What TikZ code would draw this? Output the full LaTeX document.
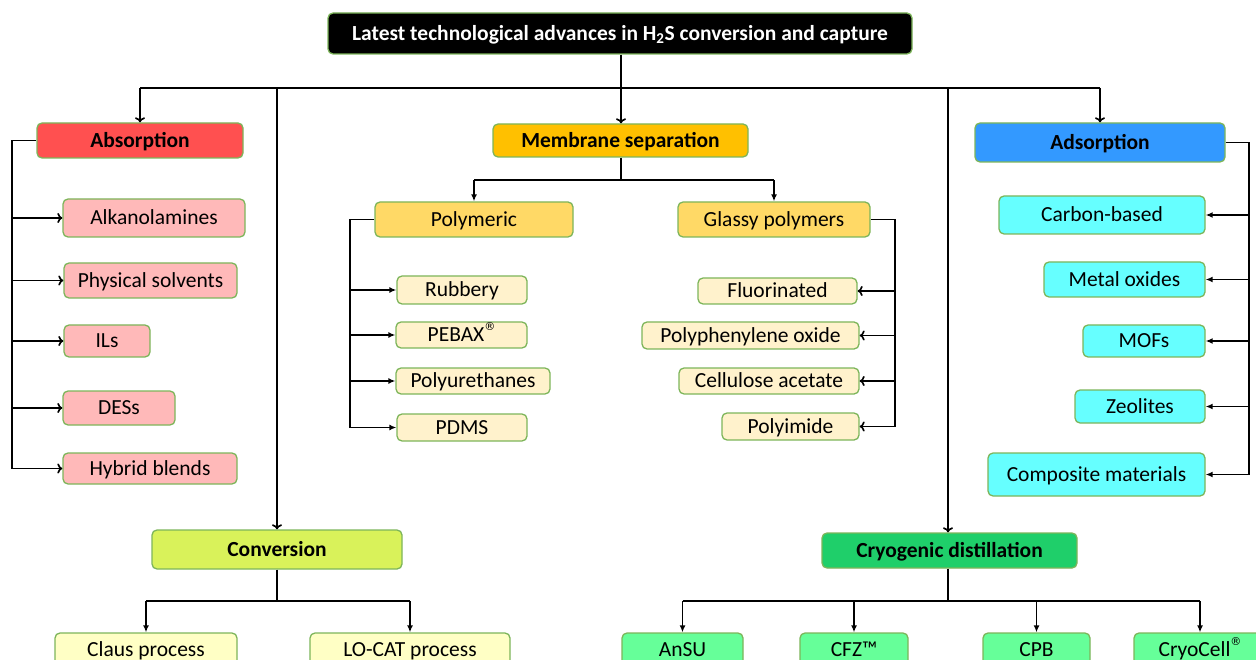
\documentclass[tikz,border=0pt]{standalone}
\usepackage{fontspec}
\setmainfont{Carlito}
\newfontfamily\dejavu{DejaVu Sans}
\usetikzlibrary{arrows.meta}
\definecolor{bd}{HTML}{7DB55A}
\definecolor{cAbs}{HTML}{FF5050}
\definecolor{cAbsL}{HTML}{FFB9B9}
\definecolor{cMem}{HTML}{FFC000}
\definecolor{cMemM}{HTML}{FFD966}
\definecolor{cMemL}{HTML}{FFF2CC}
\definecolor{cAds}{HTML}{3399FF}
\definecolor{cAdsL}{HTML}{66FFFF}
\definecolor{cConv}{HTML}{D9F25A}
\definecolor{cConvL}{HTML}{FFFFC5}
\definecolor{cCryo}{HTML}{1FCF6A}
\definecolor{cCryoL}{HTML}{66FF99}
\newcommand{\regm}{\raisebox{0.55em}{\dejavu\fontsize{11}{11}\selectfont ®}}
\tikzset{
  box/.style={draw=bd, line width=1.3pt, rounded corners=5pt, inner sep=0pt, font=\fontsize{21.5}{23}\selectfont, text=black, text height=15pt, text depth=1.2pt},
  hdr/.style={box, font=\fontsize{21.5}{23}\selectfont\bfseries},
  ln/.style={line width=1.9pt, black},
  arrC/.style={ln, -{To[length=5pt,width=10pt,line width=1.6pt]}},
  arrF/.style={ln, -{Latex[length=7pt,width=6pt]}}
}
\newcommand{\bx}[7]{%
  \node[#2, fill=#3, minimum width=#6pt, minimum height=#7pt] (#1) at (#4,#5)}
\begin{document}
\begin{tikzpicture}[x=1pt,y=-1pt]
\useasboundingbox (0,0) rectangle (1256,660);
\clip (0,0) rectangle (1256,660);
% title
\node[box, fill=black, text=white, font=\fontsize{21.5}{23}\selectfont\bfseries, minimum width=584pt, minimum height=41pt] (title) at (620,33.5) {Latest technological advances in H\textsubscript{2}S conversion and capture};
% headers
\bx{abs}{hdr}{cAbs}{140}{140.5}{206}{35}{Absorption};
\bx{mem}{hdr}{cMem}{620.5}{140.5}{255}{33}{Membrane separation};
\bx{ads}{hdr}{cAds}{1100}{142.5}{250}{39}{Adsorption};
\bx{conv}{hdr}{cConv}{277}{549.5}{250}{39}{Conversion};
\bx{cryo}{hdr}{cCryo}{949.5}{550.5}{255}{35}{Cryogenic distillation};
% absorption children
\bx{alk}{box}{cAbsL}{154}{218}{182}{38}{Alkanolamines};
\bx{phy}{box}{cAbsL}{150.5}{280.5}{173}{35}{Physical solvents};
\bx{ils}{box}{cAbsL}{107}{341}{86}{32}{ILs};
\bx{des}{box}{cAbsL}{119}{408}{112}{34}{DESs};
\bx{hyb}{box}{cAbsL}{150}{468.5}{174}{31}{Hybrid blends};
% membrane mid
\bx{poly}{box}{cMemM}{474}{219.5}{198}{35}{Polymeric};
\bx{glas}{box}{cMemM}{774}{219.5}{192}{35}{Glassy polymers};
% polymeric children
\bx{rub}{box}{cMemL}{462}{290}{130}{28}{Rubbery};
\bx{peb}{box}{cMemL}{461.5}{335}{131}{26}{PEBAX\regm};
\bx{pur}{box}{cMemL}{473}{381}{154}{26}{Polyurethanes};
\bx{pdms}{box}{cMemL}{462}{427.5}{130}{27}{PDMS};
% glassy children
\bx{flu}{box}{cMemL}{777.5}{291}{159}{26}{Fluorinated};
\bx{ppo}{box}{cMemL}{750.5}{335.5}{217}{27}{Polyphenylene oxide};
\bx{cel}{box}{cMemL}{769}{381}{180}{26}{Cellulose acetate};
\bx{pim}{box}{cMemL}{790.5}{426.5}{137}{27}{Polyimide};
% adsorption children
\bx{carb}{box}{cAdsL}{1102}{215}{206}{38}{Carbon-based};
\bx{met}{box}{cAdsL}{1124.5}{279.5}{161}{35}{Metal oxides};
\bx{mof}{box}{cAdsL}{1144}{341}{122}{32}{MOFs};
\bx{zeo}{box}{cAdsL}{1140}{406.5}{130}{33}{Zeolites};
\bx{comp}{box}{cAdsL}{1096.5}{474.5}{217}{43}{Composite materials};
% conversion children
\bx{claus}{box}{cConvL}{146}{650}{182}{34}{Claus process};
\bx{locat}{box}{cConvL}{410}{650}{200}{34}{LO-CAT process};
% cryo children
\bx{ansu}{box}{cCryoL}{682.5}{650}{121}{34}{AnSU};
\bx{cfz}{box}{cCryoL}{854}{650}{108}{34}{CFZ™};
\bx{cpb}{box}{cCryoL}{1036.5}{650}{107}{34}{CPB};
\bx{cryc}{box}{cCryoL}{1200}{650}{132}{34}{CryoCell\regm};
% top bus
\coordinate (hub) at (621,88);
\coordinate (hL) at (140,88);
\coordinate (hR) at (1100,88);
\coordinate (hC) at (277,88);
\coordinate (hY) at (948,88);
\draw[ln] (title.south -| hub) -- (hub);
\draw[ln] (hL) -- (hR);
\draw[arrC] (hL) -- (abs.north);
\draw[arrC] (hub) -- (mem.north -| hub);
\draw[arrC] (hR) -- (ads.north);
\draw[arrC] (hC) -- (conv.north);
\draw[arrC] (hY) -- (cryo.north -| hY);
% absorption bus
\coordinate (aT) at (12,140.5);
\coordinate (aB) at (12,468.5);
\draw[ln] (abs.west) -- (aT) -- (aB);
\foreach \n in {alk,phy,ils,des,hyb} \draw[arrC] (aT |- \n.west) -- (\n.west);
% membrane split
\coordinate (mS) at (621,180);
\draw[ln] (mem.south -| mS) -- (mS);
\draw[ln] (mS -| poly.north) -- (mS -| glas.north);
\draw[arrF] (mS -| poly.north) -- (poly.north);
\draw[arrF] (mS -| glas.north) -- (glas.north);
% polymeric bus
\coordinate (pT) at (350,219.5);
\coordinate (pB) at (350,427.5);
\draw[ln] (poly.west) -- (pT) -- (pB);
\foreach \n in {rub,peb,pur,pdms} \draw[arrF] (pT |- \n.west) -- (\n.west);
% glassy bus
\coordinate (gT) at (895,219.5);
\coordinate (gB) at (895,426.5);
\draw[ln] (glas.east) -- (gT) -- (gB);
\foreach \n in {flu,ppo,cel,pim} \draw[arrC] (gT |- \n.east) -- (\n.east);
% adsorption bus
\coordinate (dT) at (1249,142.5);
\coordinate (dB) at (1249,474.5);
\draw[ln] (ads.east) -- (dT) -- (dB);
\foreach \n in {carb,met,mof,zeo,comp} \draw[arrF] (dT |- \n.east) -- (\n.east);
% conversion split
\coordinate (cS) at (277,601);
\draw[ln] (conv.south) -- (cS);
\draw[ln] (cS -| claus.north) -- (cS -| locat.north);
\draw[arrF] (cS -| claus.north) -- (claus.north);
\draw[arrF] (cS -| locat.north) -- (locat.north);
% cryo split
\coordinate (yS) at (948,601);
\draw[ln] (cryo.south -| yS) -- (yS);
\draw[ln] (yS -| ansu.north) -- (yS -| cryc.north);
\foreach \n in {ansu,cfz,cpb,cryc} \draw[arrF] (yS -| \n.north) -- (\n.north);
\end{tikzpicture}
\end{document}
